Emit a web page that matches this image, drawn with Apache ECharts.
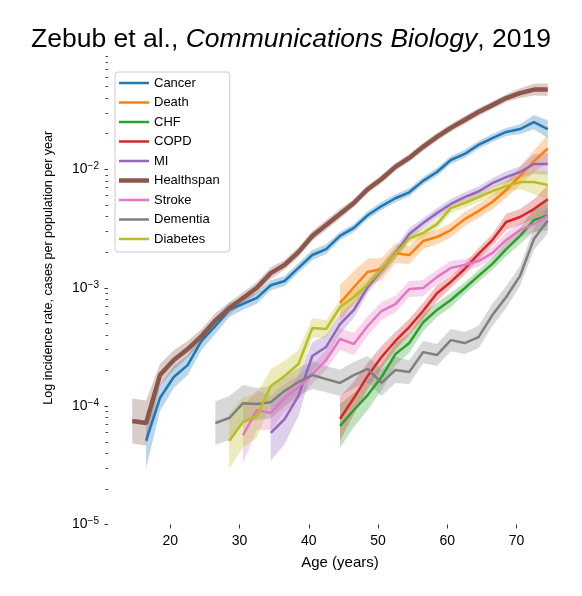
<!DOCTYPE html>
<html>
<head>
<meta charset="utf-8">
<script src="https://cdn.jsdelivr.net/npm/echarts@6/dist/echarts.min.js"></script>
<style>
  html, body { margin: 0; padding: 0; background: #fff; }
  #chart { width: 582px; height: 596px; }
</style>
</head>
<body>
<div id="chart"></div>
<script>
// age bins (years) shared by all series
var ages = [14.5, 16.5, 18.5, 20.5, 22.5, 24.5, 26.5, 28.5, 30.5, 32.5, 34.5, 36.5, 38.5, 40.5, 42.5,
            44.5, 46.5, 48.5, 50.5, 52.5, 54.5, 56.5, 58.5, 60.5, 62.5, 64.5, 66.5, 68.5, 70.5, 72.5, 74.5];

// incidence rates (cases per population per year), null = no data
var cancer = [null, 5.1e-5, 1.17e-4, 1.76e-4, 2.22e-4, 3.55e-4, 4.75e-4, 6.5e-4, 7.3e-4, 8.2e-4, 1.05e-3, 1.14e-3, 1.47e-3, 1.89e-3, 2.12e-3,
              2.74e-3, 3.2e-3, 4.1e-3, 4.9e-3, 5.7e-3, 6.4e-3, 8.0e-3, 9.5e-3, 1.2e-2, 1.35e-2, 1.61e-2, 1.84e-2, 2.07e-2, 2.19e-2, 2.51e-2, 2.19e-2];
var death = [null, null, null, null, null, null, null, null, null, null, null, null, null, null, null,
             7.43e-4, 1.01e-3, 1.36e-3, 1.44e-3, 1.96e-3, 1.89e-3, 2.48e-3, 2.68e-3, 3.07e-3, 3.8e-3, 4.44e-3, 5.3e-3, 6.7e-3, 8.8e-3, 1.17e-2, 1.5e-2];
var chf = [null, null, null, null, null, null, null, null, null, null, null, null, null, null, null,
           6.8e-5, 9.27e-5, 1.24e-4, 1.76e-4, 2.75e-4, 3.41e-4, 5.1e-4, 6.5e-4, 7.87e-4, 9.9e-4, 1.26e-3, 1.59e-3, 2.12e-3, 2.74e-3, 3.73e-3, 4.1e-3];
var copd = [null, null, null, null, null, null, null, null, null, null, null, null, null, null, null,
            7.8e-5, 1.17e-4, 1.8e-4, 2.6e-4, 3.55e-4, 4.66e-4, 6.36e-4, 9.0e-4, 1.12e-3, 1.44e-3, 1.93e-3, 2.53e-3, 3.59e-3, 3.96e-3, 4.62e-3, 5.6e-3];
var mi = [null, null, null, null, null, null, null, null, null, null, 5.93e-5, 7.78e-5, 1.22e-4, 2.65e-4, 3.16e-4,
          4.93e-4, 6.49e-4, 1.01e-3, 1.41e-3, 1.96e-3, 2.84e-3, 3.52e-3, 4.27e-3, 5.1e-3, 5.83e-3, 6.5e-3, 7.66e-3, 8.6e-3, 9.5e-3, 1.11e-2, 1.11e-2];
var healthspan = [7.5e-5, 7.2e-5, 1.83e-4, 2.45e-4, 3.03e-4, 3.9e-4, 5.3e-4, 6.7e-4, 8.2e-4, 1.0e-3, 1.33e-3, 1.56e-3, 2.0e-3, 2.74e-3, 3.39e-3,
                  4.2e-3, 5.2e-3, 6.8e-3, 8.3e-3, 1.05e-2, 1.25e-2, 1.55e-2, 1.88e-2, 2.24e-2, 2.61e-2, 3.05e-2, 3.49e-2, 4.0e-2, 4.41e-2, 4.72e-2, 4.72e-2];
var stroke = [null, null, null, null, null, null, null, null, 5.7e-5, 9.27e-5, 8.75e-5, 1.17e-4, 1.45e-4, 1.87e-4, 2.45e-4,
              3.69e-4, 3.35e-4, 4.75e-4, 6.36e-4, 7.28e-4, 9.75e-4, 9.94e-4, 1.23e-3, 1.47e-3, 1.56e-3, 1.68e-3, 1.96e-3, 2.53e-3, 3.07e-3, 3.45e-3, 4.03e-3];
var dementia = [null, null, null, null, null, null, 7.2e-5, 7.93e-5, 1.06e-4, 1.04e-4, 1.08e-4, 1.34e-4, 1.6e-4, 1.83e-4, 1.69e-4,
                1.57e-4, 1.83e-4, 2.06e-4, 1.57e-4, 2.02e-4, 1.94e-4, 2.86e-4, 2.7e-4, 3.61e-4, 3.41e-4, 3.83e-4, 5.88e-4, 8.35e-4, 1.26e-3, 2.58e-3, 3.7e-3];
var diabetes = [null, null, null, null, null, null, null, 5.07e-5, 7.34e-5, 8.25e-5, 1.48e-4, 1.8e-4, 2.27e-4, 4.57e-4, 4.48e-4,
                6.87e-4, 8.35e-4, 1.07e-3, 1.44e-3, 1.93e-3, 2.6e-3, 2.9e-3, 3.45e-3, 4.71e-3, 5.19e-3, 5.83e-3, 6.56e-3, 7.22e-3, 7.81e-3, 7.81e-3, 7.37e-3];

// confidence band as a multiplicative factor (band = value / f .. value * f)
var cancerErr = [null, 1.72, 1.29, 1.24, 1.21, 1.19, 1.17, 1.15, 1.12, 1.12, 1.1, 1.1, 1.1, 1.1, 1.1,
                 1.08, 1.08, 1.08, 1.08, 1.08, 1.08, 1.08, 1.08, 1.08, 1.08, 1.08, 1.08, 1.08, 1.1, 1.15, 1.19];
var deathErr = [null, null, null, null, null, null, null, null, null, null, null, null, null, null, null,
                1.42, 1.37, 1.29, 1.24, 1.21, 1.19, 1.17, 1.15, 1.15, 1.15, 1.15, 1.15, 1.17, 1.19, 1.24, 1.31];
var chfErr = [null, null, null, null, null, null, null, null, null, null, null, null, null, null, null,
              1.53, 1.39, 1.34, 1.29, 1.24, 1.21, 1.19, 1.15, 1.15, 1.12, 1.12, 1.12, 1.15, 1.17, 1.26, 1.34];
var copdErr = [null, null, null, null, null, null, null, null, null, null, null, null, null, null, null,
               1.53, 1.37, 1.29, 1.24, 1.19, 1.17, 1.17, 1.17, 1.12, 1.12, 1.12, 1.12, 1.17, 1.17, 1.21, 1.31];
var miErr = [null, null, null, null, null, null, null, null, null, null, 1.72, 1.63, 1.48, 1.31, 1.26,
             1.21, 1.17, 1.12, 1.12, 1.12, 1.12, 1.1, 1.1, 1.1, 1.1, 1.1, 1.1, 1.12, 1.12, 1.21, 1.24];
var healthspanErr = [1.55, 1.55, 1.24, 1.21, 1.17, 1.15, 1.15, 1.12, 1.12, 1.12, 1.12, 1.1, 1.1, 1.1, 1.1,
                     1.1, 1.08, 1.08, 1.08, 1.08, 1.08, 1.08, 1.08, 1.08, 1.08, 1.08, 1.08, 1.08, 1.1, 1.12, 1.13];
var strokeErr = [null, null, null, null, null, null, null, null, 1.72, 1.47, 1.39, 1.31, 1.26, 1.21, 1.21,
                 1.24, 1.24, 1.21, 1.19, 1.17, 1.17, 1.17, 1.15, 1.15, 1.12, 1.12, 1.12, 1.15, 1.15, 1.17, 1.21];
var dementiaErr = [null, null, null, null, null, null, 1.53, 1.53, 1.42, 1.37, 1.37, 1.34, 1.31, 1.31, 1.29,
                   1.29, 1.29, 1.29, 1.29, 1.29, 1.26, 1.24, 1.24, 1.24, 1.24, 1.24, 1.24, 1.24, 1.21, 1.24, 1.29];
var diabetesErr = [null, null, null, null, null, null, null, 1.72, 1.63, 1.53, 1.39, 1.34, 1.31, 1.21, 1.19,
                   1.15, 1.15, 1.12, 1.1, 1.1, 1.1, 1.1, 1.1, 1.1, 1.1, 1.1, 1.1, 1.12, 1.15, 1.26, 1.31];

var xTicks = [20, 30, 40, 50, 60, 70];
var yMajorExp = [-5, -4, -3, -2];
var yMinorTicks = [];
for (var e = -5; e < -1; e++) {
    for (var k = 2; k <= 9; k++) yMinorTicks.push(Math.log10(k) + e);
}

var FONT = '"Liberation Sans", Arial, Helvetica, sans-serif';

var diseases = [
    {name: 'Cancer', color: '#1f77b4', values: cancer, err: cancerErr},
    {name: 'Death', color: '#ff7f0e', values: death, err: deathErr},
    {name: 'CHF', color: '#2ca02c', values: chf, err: chfErr},
    {name: 'COPD', color: '#d62728', values: copd, err: copdErr},
    {name: 'MI', color: '#9467bd', values: mi, err: miErr},
    {name: 'Healthspan', color: '#8c564b', values: healthspan, err: healthspanErr, width: 4.5},
    {name: 'Stroke', color: '#e377c2', values: stroke, err: strokeErr},
    {name: 'Dementia', color: '#7f7f7f', values: dementia, err: dementiaErr},
    {name: 'Diabetes', color: '#bcbd22', values: diabetes, err: diabetesErr}
];

function lineData(vals) {
    var out = [];
    for (var i = 0; i < ages.length; i++) {
        if (vals[i] != null) out.push([ages[i], Math.log10(vals[i])]);
    }
    return out;
}
function bandData(vals, err) {
    var out = [];
    for (var i = 0; i < ages.length; i++) {
        if (vals[i] != null) out.push([ages[i], Math.log10(vals[i] / err[i]), Math.log10(vals[i] * err[i])]);
    }
    return out;
}

var series = [];
diseases.forEach(function (d) {
    series.push({
        type: 'line',
        name: d.name,
        data: lineData(d.values),
        symbol: 'none',
        showSymbol: false,
        lineStyle: {color: d.color, width: d.width || 2.5},
        itemStyle: {color: d.color},
        silent: true
    });
    var band = bandData(d.values, d.err);
    series.push({
        type: 'custom',
        name: d.name + ' band',
        data: band,
        encode: {x: 0, y: [1, 2]},
        silent: true,
        renderItem: function (params, api) {
            if (params.dataIndex !== 0) return null;
            var top = [], bottom = [];
            band.forEach(function (p) {
                top.push(api.coord([p[0], p[2]]));
                bottom.unshift(api.coord([p[0], p[1]]));
            });
            return {
                type: 'polygon',
                shape: {points: top.concat(bottom)},
                style: {fill: d.color, opacity: 0.3}
            };
        }
    });
});

// legend sample: a flat bar, thicker for Healthspan
var legendData = diseases.map(function (d) {
    var h = d.width ? 4.5 : 2.5;
    return {name: d.name, icon: 'path://M0,0L30,0L30,' + h + 'L0,' + h + 'Z'};
});

var chart = echarts.init(document.getElementById('chart'));
chart.setOption({
    backgroundColor: '#fff',
    animation: false,
    textStyle: {fontFamily: FONT},
    title: {
        text: '{n|Zebub et al., }{i|Communications Biology}{n|, 2019}',
        left: 'center',
        top: 21,
        textStyle: {
            fontWeight: 'normal',
            rich: {
                n: {fontSize: 26.5, color: '#000', fontWeight: 'normal', fontFamily: FONT},
                i: {fontSize: 26.5, color: '#000', fontWeight: 'normal', fontStyle: 'italic', fontFamily: FONT}
            }
        }
    },
    legend: {
        orient: 'vertical',
        left: 115,
        top: 72,
        data: legendData,
        itemWidth: 30,
        itemHeight: 14,
        itemGap: 5.5,
        symbolKeepAspect: true,
        padding: [4, 10, 6, 4],
        backgroundColor: 'rgba(255,255,255,0.8)',
        borderColor: '#cccccc',
        borderWidth: 1,
        borderRadius: 3,
        selectedMode: false,
        textStyle: {fontSize: 13, color: '#000', fontFamily: FONT, lineHeight: 14}
    },
    grid: {left: 108, right: 10, top: 51, bottom: 71.5, containLabel: false, outerBoundsMode: 'none'},
    xAxis: {
        type: 'value',
        min: 11,
        max: 78,
        axisLine: {show: false},
        splitLine: {show: false},
        axisTick: {show: true, length: 4, customValues: xTicks, lineStyle: {color: '#333', width: 1}},
        axisLabel: {customValues: xTicks, fontSize: 14, color: '#000', margin: 10, fontFamily: FONT},
        name: 'Age (years)',
        nameLocation: 'middle',
        nameGap: 31,
        nameTextStyle: {fontSize: 15, color: '#000', fontFamily: FONT}
    },
    yAxis: [{
        type: 'value',
        min: -5,
        max: -1,
        axisLine: {show: false},
        splitLine: {show: false},
        axisTick: {show: true, length: 3.5, customValues: yMajorExp, lineStyle: {color: '#333', width: 1}},
        axisLabel: {
            customValues: yMajorExp,
            margin: 9,
            formatter: function (v) { return '{b|10}{s|\u2212' + Math.abs(Math.round(v)) + '}'; },
            rich: {
                b: {fontSize: 14, color: '#000', fontFamily: FONT, lineHeight: 16},
                s: {fontSize: 10, color: '#000', fontFamily: FONT, lineHeight: 16, verticalAlign: 'top'}
            }
        },
        name: 'Log incidence rate, cases per population per year',
        nameLocation: 'middle',
        nameGap: 53,
        nameTextStyle: {fontSize: 12.5, color: '#000', fontFamily: FONT, padding: [0, 0, 0, 40]}
    }, {
        type: 'value',
        min: -5,
        max: -1,
        position: 'left',
        axisLine: {show: false},
        splitLine: {show: false},
        axisLabel: {show: false},
        axisTick: {show: true, length: 2.5, customValues: yMinorTicks, lineStyle: {color: '#444', width: 1}}
    }],
    series: series
});
</script>
</body>
</html>
